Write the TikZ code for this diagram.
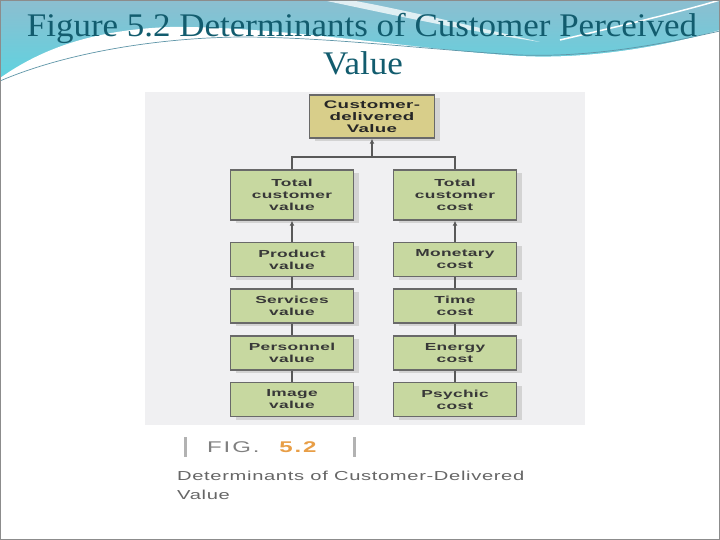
\documentclass[tikz,border=0pt]{standalone}
\usepackage{fontspec}
\setmainfont{Liberation Serif}
\newfontfamily\titlefont[FakeStretch=1.06]{Liberation Serif}
\newfontfamily\boxfont[FakeStretch=1.7, LetterSpace=3]{Liberation Sans}
\newfontfamily\capfont[FakeStretch=1.55, LetterSpace=5]{Liberation Sans}
\usetikzlibrary{shadows, arrows.meta}

\definecolor{titleteal}{RGB}{18,92,110}
\definecolor{hdtop}{RGB}{140,190,208}
\definecolor{hdbot}{RGB}{88,214,226}
\definecolor{hdline}{RGB}{95,150,168}
\definecolor{boxgreen}{RGB}{199,216,160}
\definecolor{boxkhaki}{RGB}{216,206,138}
\definecolor{boxedge}{RGB}{105,105,105}
\definecolor{figorange}{RGB}{232,158,70}
\definecolor{scan}{RGB}{240,240,242}

\tikzset{
  valbox/.style={draw=boxedge, line width=1.5pt, fill=boxgreen, minimum width=123pt,
    align=center, inner sep=0pt, text=black!78,
    font=\boxfont\bfseries\fontsize{10.2}{12}\selectfont,
    drop shadow={shadow xshift=5pt, shadow yshift=-3pt, fill=black!22, opacity=0.7}},
  topbox/.style={valbox, fill=boxkhaki, minimum width=125pt, minimum height=43pt,
    font=\boxfont\bfseries\fontsize{11}{12}\selectfont, text=black!85},
  link/.style={draw=black!65, line width=1.8pt},
  uparrow/.style={link, -{Latex[length=5pt, width=5pt]}},
  figbar/.style={draw=black!30, line width=3pt},
}

\begin{document}
\begin{tikzpicture}[x=1pt, y=-1pt]
  \useasboundingbox (0,0) rectangle (720,540);
  % slide header
  \fill[top color=hdtop, bottom color=hdbot] (0,0) rectangle (720,90);
  \fill[white] (0,78) .. controls (40,50) and (90,30) .. (170,27)
    .. controls (280,26) and (420,50) .. (520,56)
    .. controls (600,60) and (680,42) .. (720,30) -- (720,540) -- (0,540) -- cycle;
  \fill[white, opacity=0.75] (322,0) .. controls (380,12) and (450,28) .. (540,42)
    .. controls (455,22) and (395,8) .. (350,0) -- cycle;
  \draw[white, line width=1.5pt] (560,40) .. controls (620,26) and (680,12) .. (720,0);
  \draw[hdline, line width=0.7pt] (0,81) .. controls (60,55) and (150,38) .. (240,37)
    .. controls (330,37) and (430,50) .. (520,55) .. controls (600,58) and (680,40) .. (720,31);
  % title
  \node[font=\titlefont\fontsize{33}{38}\selectfont, text=titleteal, anchor=base] (t1) at (362,37)
    {Figure 5.2 Determinants of Customer Perceived};
  \node[font=\titlefont\fontsize{33}{38}\selectfont, text=titleteal, anchor=base] (t2) at (363,75)
    {Value};
  % scanned figure
  \fill[scan] (145,92) rectangle (585,425);
  \node[topbox] (cdv) at (372,116.5) {Customer-\\delivered\\Value};
  \node[valbox, minimum height=50pt] (tcv) at (292,195) {Total\\customer\\value};
  \node[valbox, minimum height=50pt] (tcc) at (455,195) {Total\\customer\\cost};
  \foreach \nm/\txt/\yy in {pv/Product/259.5, sv/Services/306, ev/Personnel/353, iv/Image/399.5}
    \node[valbox, minimum height=34pt] (\nm) at (292,\yy) {\txt\\value};
  \foreach \nm/\txt/\yy in {mc/Monetary/259.5, tc/Time/306, ec/Energy/353, pc/Psychic/399.5}
    \node[valbox, minimum height=34pt] (\nm) at (455,\yy) {\txt\\cost};
  % connectors
  \coordinate (bar) at (372,157);
  \draw[uparrow] (bar) -- (cdv.south);
  \draw[link] (tcv.north) |- (bar) -| (tcc.north);
  \draw[uparrow] (pv.north) -- (tcv.south);
  \draw[uparrow] (mc.north) -- (tcc.south);
  \foreach \a/\b in {pv/sv, sv/ev, ev/iv, mc/tc, tc/ec, ec/pc}
    \draw[link] (\a.south) -- (\b.north);
  % caption
  \draw[figbar] (185,437) -- (185,457);
  \draw[figbar] (354,437) -- (354,457);
  \node[font=\capfont\addfontfeature{LetterSpace=12}\fontsize{15.5}{16}\selectfont, text=black!50,
    anchor=base west, inner sep=0pt] (fig)
    at (207,452) {FIG.\hspace{20pt}\textcolor{figorange}{\bfseries 5.2}};
  \node[font=\capfont\fontsize{13}{19}\selectfont, text=black!60, anchor=north west, align=left, inner sep=0pt] (cap)
    at (177,471) {Determinants of Customer-Delivered\\Value};
  % slide frame
  \draw[black!45, line width=1pt] (0.5,0.5) rectangle (719.5,539.5);
\end{tikzpicture}
\end{document}
